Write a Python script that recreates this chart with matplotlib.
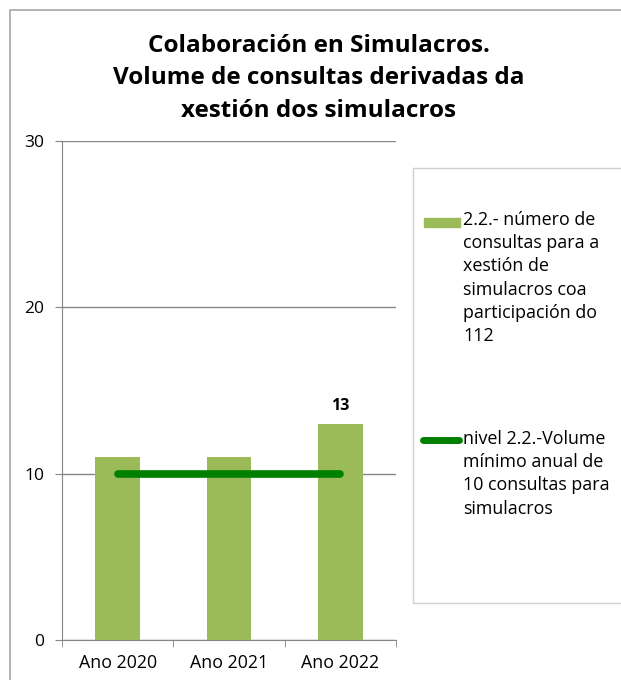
import matplotlib
matplotlib.use("Agg")
import matplotlib.pyplot as plt
from matplotlib.patches import Rectangle
from matplotlib.lines import Line2D

categories = ["Ano 2020", "Ano 2021", "Ano 2022"]
consultas = [11, 11, 13]
nivel = [10, 10, 10]
yticks = [0, 10, 20, 30]
title = "Colaboración en Simulacros.\nVolume de consultas derivadas da\nxestión dos simulacros"
label_bar = "2.2.- número de\nconsultas para a\nxestión de\nsimulacros coa\nparticipación do\n112"
label_line = "nivel 2.2.-Volume\nmínimo anual de\n10 consultas para\nsimulacros"

plt.rcParams['font.family'] = ['Open Sans', 'DejaVu Sans']

W, H = 621, 680
fig = plt.figure(figsize=(W/100, H/100), dpi=100)

def fx(px): return px / W
def fy(py): return 1 - py / H

# outer border
fig.patches.append(Rectangle((fx(10), fy(700)), fx(640) - fx(10), fy(10) - fy(700),
                             transform=fig.transFigure, fill=False, edgecolor='#a6a6a6', lw=1.2))

ax = fig.add_axes([fx(62), fy(640), fx(396) - fx(62), fy(141) - fy(640)])
x = list(range(len(categories)))
ax.bar(x, consultas, width=0.4, color='#9bbb59', zorder=2)
ax.plot(x, nivel, color='#008000', lw=5.5, solid_capstyle='round', zorder=3)
ax.text(x[-1], consultas[-1] + 0.6, str(consultas[-1]), ha='center', va='bottom',
        fontsize=11.5, fontweight='bold')

ax.set_xlim(-0.5, len(categories) - 0.5)
ax.set_ylim(0, 30)
ax.set_yticks(yticks)
ax.set_yticklabels([str(t) for t in yticks], fontsize=12.5)
ax.set_xticks(x)
ax.set_xticklabels(categories, fontsize=12.8)
ax.set_xticks([-0.5, 0.5, 1.5, 2.5], minor=True)
ax.tick_params(axis='x', which='major', length=0, pad=10)
ax.tick_params(axis='x', which='minor', length=5, color='#868686')
ax.tick_params(axis='y', length=5, color='#868686', pad=8)
ax.yaxis.grid(True, color='#868686', lw=1)
ax.set_axisbelow(True)
for s in ['top', 'right']:
    ax.spines[s].set_visible(False)
for s in ['left', 'bottom']:
    ax.spines[s].set_color('#868686')

fig.text(fx(319), fy(34), title, ha='center', va='top', fontsize=17.5,
         fontweight='bold', linespacing=1.46)

# legend box
fig.patches.append(Rectangle((fx(413), fy(603)), fx(650) - fx(413), fy(168) - fy(603),
                             transform=fig.transFigure, fill=False, edgecolor='#d0d0d0', lw=1))
fig.patches.append(Rectangle((fx(424), fy(227)), fx(460) - fx(424), fy(218) - fy(227),
                             transform=fig.transFigure, color='#9bbb59'))
fig.lines.append(Line2D([fx(423), fx(459)], [fy(440), fy(440)], transform=fig.transFigure,
                        color='#008000', lw=5, solid_capstyle='round'))
fig.text(fx(463), fy(211), label_bar, ha='left', va='top', fontsize=12.9, linespacing=1.37)
fig.text(fx(463), fy(430), label_line, ha='left', va='top', fontsize=12.9, linespacing=1.37)

fig.savefig("out.png", dpi=100)
